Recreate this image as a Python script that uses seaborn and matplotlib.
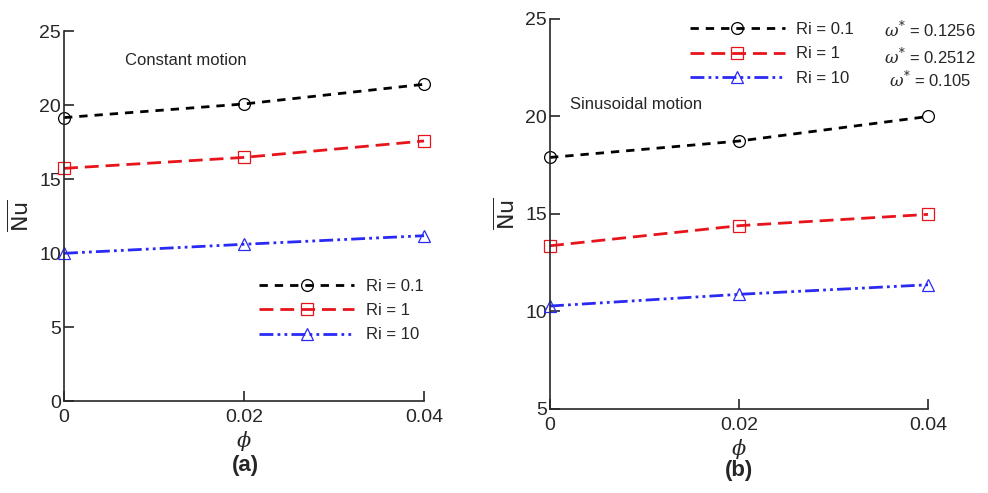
import matplotlib
matplotlib.use("Agg")
import matplotlib.pyplot as plt
import seaborn as sns
import pandas as pd

sns.set_style("ticks")
plt.rcParams['font.family'] = ['Liberation Sans', 'DejaVu Sans']
plt.rcParams['mathtext.fontset'] = 'dejavuserif'

# dane
phi = [0.0, 0.02, 0.04]
ri_labels = ['Ri = 0.1', 'Ri = 1', 'Ri = 10']
nu_constant = {
    'Ri = 0.1': [19.15, 20.07, 21.4],
    'Ri = 1': [15.72, 16.46, 17.57],
    'Ri = 10': [9.98, 10.59, 11.17],
}
nu_sinus = {
    'Ri = 0.1': [17.9, 18.74, 20.0],
    'Ri = 1': [13.37, 14.4, 14.98],
    'Ri = 10': [10.28, 10.88, 11.37],
}
omega_labels = [r'$\omega^{*}$ = 0.1256', r'$\omega^{*}$ = 0.2512', r'$\omega^{*}$ = 0.105']

colors = ['black', '#e8141c', '#2a2af5']
markers = ['o', 's', '^']
styles = [(0, (3, 2.5)), (0, (5, 2.5)), (0, (5, 1.5, 1, 1.5, 1, 1.5))]


def rysuj(ax, dane, ylim, yticks):
    for i, lab in enumerate(ri_labels):
        df = pd.DataFrame({'phi': phi, 'nu': dane[lab]})
        sns.lineplot(data=df, x='phi', y='nu', ax=ax, color=colors[i], marker=markers[i],
                     linestyle=styles[i], linewidth=2, markersize=8.5,
                     markerfacecolor='none', markeredgecolor=colors[i], markeredgewidth=0.9,
                     alpha=1, label=lab, clip_on=False)
    ax.set_xlim(0, 0.04)
    ax.set_ylim(*ylim)
    ax.set_xticks(phi)
    ax.set_xticklabels(['0', '0.02', '0.04'])
    ax.set_yticks(yticks)
    ax.tick_params(direction='in', labelsize=14, length=7, width=1.2)
    ax.tick_params(axis='x', pad=6)
    ax.tick_params(axis='y', pad=2)
    ax.set_xlabel(r'$\phi$', fontsize=15, labelpad=2)
    ax.set_ylabel(r'$\overline{\mathsf{Nu}}$', fontsize=16, labelpad=4)
    sns.despine(ax=ax)
    for s in ['left', 'bottom']:
        ax.spines[s].set_linewidth(1.2)


fig = plt.figure(figsize=(9.88, 4.93), dpi=100)
ax1 = fig.add_axes([0.0648, 0.1866, 0.3644, 0.7505])
ax2 = fig.add_axes([0.5567, 0.1704, 0.3826, 0.7911])

rysuj(ax1, nu_constant, (0, 25), [0, 5, 10, 15, 20, 25])
rysuj(ax2, nu_sinus, (5, 25), [5, 10, 15, 20, 25])

leg1 = ax1.legend(loc='upper left', bbox_to_anchor=(0.5, 0.37), frameon=False,
                  fontsize=12, handlelength=5.7, handletextpad=0.7, labelspacing=0.55)
leg2 = ax2.legend(loc='upper left', bbox_to_anchor=(0.33, 1.03), frameon=False,
                  fontsize=12, handlelength=5.7, handletextpad=0.7, labelspacing=0.55)

ys = [0.972, 0.903, 0.846]
for y, t in zip(ys, omega_labels):
    ax2.text(1.005, y, t, transform=ax2.transAxes, fontsize=12, ha='center', va='center')

ax1.text(0.0068, 23.0, 'Constant motion', fontsize=12, va='center')
ax2.text(0.0021, 20.6, 'Sinusoidal motion', fontsize=12, va='center')

fig.text(0.248, 0.055, '(a)', fontsize=16, fontweight='bold', ha='center', va='center')
fig.text(0.748, 0.045, '(b)', fontsize=16, fontweight='bold', ha='center', va='center')

fig.savefig('out.png', dpi=100)
